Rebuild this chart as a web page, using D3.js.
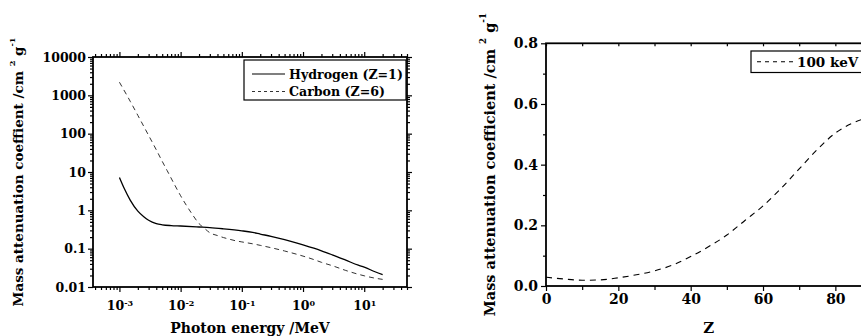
<!DOCTYPE html>
<html>
<head>
<meta charset="utf-8">
<script src="https://cdn.jsdelivr.net/npm/d3@7"></script>
<style>
  body { margin: 0; background: #fff; }
  svg { display: block; font-family: "DejaVu Serif", serif; font-weight: bold; }
  .frame { fill: none; stroke: #000; stroke-width: 1.8; }
  .axis path { display: none; }
  .axis line { stroke: #000; stroke-width: 1.2; }
  .axis text { fill: #000; font-family: "DejaVu Serif", serif; font-weight: bold; }
</style>
</head>
<body>
<svg id="chart" width="861" height="336"></svg>
<script>
// left panel: mass attenuation vs photon energy (MeV)
const hEnergy = [0.001, 0.0012, 0.0015, 0.002, 0.0025, 0.003, 0.004, 0.005, 0.007, 0.01, 0.02, 0.03, 0.05, 0.1, 0.15, 0.2, 0.3, 0.5, 0.8, 1, 1.5, 2, 3, 5, 8, 10, 15, 20];
const hMu     = [7.2, 3.7, 1.85, 0.95, 0.68, 0.55, 0.45, 0.42, 0.40, 0.39, 0.368, 0.355, 0.33, 0.292, 0.265, 0.24, 0.21, 0.172, 0.14, 0.126, 0.103, 0.088, 0.069, 0.05, 0.037, 0.033, 0.025, 0.021];
const cEnergy = [0.001, 0.0015, 0.002, 0.003, 0.004, 0.005, 0.006, 0.008, 0.01, 0.015, 0.02, 0.025, 0.03, 0.04, 0.05, 0.06, 0.08, 0.1, 0.15, 0.2, 0.3, 0.5, 0.8, 1, 1.5, 2, 3, 5, 8, 10, 15, 20];
const cMu     = [2200, 700, 300, 90, 38, 19, 11, 4.6, 2.4, 0.85, 0.45, 0.33, 0.26, 0.22, 0.195, 0.18, 0.16, 0.15, 0.134, 0.122, 0.106, 0.087, 0.071, 0.064, 0.052, 0.044, 0.036, 0.027, 0.0215, 0.0196, 0.017, 0.0158];
const leftSeries = ['Hydrogen (Z=1)', 'Carbon (Z=6)'];
const leftYTicks = [0.01, 0.1, 1, 10, 100, 1000, 10000];
const leftXTicks = [1e-3, 1e-2, 1e-1, 1, 10];

// right panel: mass attenuation vs Z at 100 keV
const zValues = [0, 5, 10, 15, 20, 25, 30, 35, 40, 45, 50, 55, 60, 65, 70, 75, 80, 85, 88];
const mu100   = [0.029, 0.023, 0.019, 0.020, 0.027, 0.037, 0.050, 0.069, 0.097, 0.130, 0.168, 0.216, 0.264, 0.322, 0.386, 0.450, 0.504, 0.538, 0.552];
const rightSeries = ['100 keV'];
const rightXTicks = [0, 20, 40, 60, 80];
const rightYTicks = [0, 0.2, 0.4, 0.6, 0.8];

const svg = d3.select('#chart');

function yTitle(g, x, y, main, size){
  const t = g.append('text')
    .attr('transform', `translate(${x},${y}) rotate(-90)`)
    .attr('text-anchor', 'middle')
    .attr('font-size', size + 'px');
  t.append('tspan').text(main + ' /cm ');
  t.append('tspan').attr('dy', -size * 0.6).attr('font-size', (size * 0.6) + 'px').text('2');
  t.append('tspan').attr('dy', size * 0.6).text(' g');
  t.append('tspan').attr('dy', -size * 0.6).attr('font-size', (size * 0.6) + 'px').text('-1');
}

/* ---------- left panel ---------- */
{
  const L = 93, R = 407, T = 57, B = 287;
  const x = d3.scaleLog().domain([3.7e-4, 50]).range([L, R]);
  const y = d3.scaleLog().domain([0.01, 10000]).range([B, T]);
  const g = svg.append('g');

  const minorX = x.ticks().filter(v => !leftXTicks.includes(v));
  const minorY = y.ticks().filter(v => !leftYTicks.includes(v));

  // minor ticks on all sides
  g.append('g').attr('class', 'axis').attr('transform', `translate(0,${B})`)
    .call(d3.axisBottom(x).tickValues(minorX).tickSize(3).tickFormat(''));
  g.append('g').attr('class', 'axis').attr('transform', `translate(0,${T})`)
    .call(d3.axisTop(x).tickValues(minorX).tickSize(3).tickFormat(''));
  g.append('g').attr('class', 'axis').attr('transform', `translate(${L},0)`)
    .call(d3.axisLeft(y).tickValues(minorY).tickSize(3).tickFormat(''));
  g.append('g').attr('class', 'axis').attr('transform', `translate(${R},0)`)
    .call(d3.axisRight(y).tickValues(minorY).tickSize(3).tickFormat(''));

  // major ticks
  const xb = g.append('g').attr('class', 'axis').attr('transform', `translate(0,${B})`)
    .call(d3.axisBottom(x).tickValues(leftXTicks).tickSize(5).tickPadding(9).tickFormat(''));
  xb.selectAll('.tick text').attr('font-size', '12.5px').each(function(d){
    const t = d3.select(this);
    t.append('tspan').text('10');
    t.append('tspan').attr('dy', '-0.5em').attr('font-size', '8px').text(Math.round(Math.log10(d)));
  });
  g.append('g').attr('class', 'axis').attr('transform', `translate(0,${T})`)
    .call(d3.axisTop(x).tickValues(leftXTicks).tickSize(5).tickFormat(''));
  g.append('g').attr('class', 'axis').attr('transform', `translate(${L},0)`)
    .call(d3.axisLeft(y).tickValues(leftYTicks).tickSize(5).tickPadding(2).tickFormat(d => String(d)))
    .selectAll('text').attr('font-size', '12.5px');
  g.append('g').attr('class', 'axis').attr('transform', `translate(${R},0)`)
    .call(d3.axisRight(y).tickValues(leftYTicks).tickSize(5).tickFormat(''));

  g.append('rect').attr('class', 'frame').attr('x', L).attr('y', T).attr('width', R - L).attr('height', B - T);

  const line = d3.line().x(d => x(d[0])).y(d => y(d[1])).curve(d3.curveMonotoneX);
  g.append('path').datum(d3.zip(hEnergy, hMu)).attr('d', line)
    .attr('fill', 'none').attr('stroke', '#000').attr('stroke-width', 1.3);
  g.append('path').datum(d3.zip(cEnergy, cMu)).attr('d', line)
    .attr('fill', 'none').attr('stroke', '#333').attr('stroke-width', 1).attr('stroke-dasharray', '5,4');

  // legend
  const lg = g.append('g');
  lg.append('rect').attr('x', 244).attr('y', 60).attr('width', 162).attr('height', 40)
    .attr('fill', '#fff').attr('stroke', '#000').attr('stroke-width', 1.2);
  leftSeries.forEach((s, i) => {
    const yy = 74 + i * 17.5;
    lg.append('line').attr('x1', 252).attr('x2', 285).attr('y1', yy).attr('y2', yy)
      .attr('stroke', i ? '#333' : '#000').attr('stroke-width', i ? 1 : 1.2)
      .attr('stroke-dasharray', i ? '3,3' : null);
    lg.append('text').attr('x', 289).attr('y', yy + 4.5).attr('font-size', '12.6px').text(s);
  });

  g.append('text').attr('x', (L + R) / 2).attr('y', 333).attr('text-anchor', 'middle')
    .attr('font-size', '14px').text('Photon energy /MeV');
  yTitle(g, 23, (T + B) / 2, 'Mass attenuation coeffient', 13.5);
}

/* ---------- right panel ---------- */
{
  const L = 546, T = 43.3, B = 286;
  const R = L + 100 * 3.617;
  const x = d3.scaleLinear().domain([0, 100]).range([L, R]);
  const y = d3.scaleLinear().domain([0, 0.8]).range([B, T]);
  const g = svg.append('g');

  const minorX = d3.range(10, 100, 20);
  const minorY = [0.1, 0.3, 0.5, 0.7];

  g.append('g').attr('class', 'axis').attr('transform', `translate(0,${B})`)
    .call(d3.axisBottom(x).tickValues(minorX).tickSize(4).tickFormat(''));
  g.append('g').attr('class', 'axis').attr('transform', `translate(0,${T})`)
    .call(d3.axisBottom(x).tickValues(minorX.concat(rightXTicks)).tickSize(3).tickFormat(''));
  g.append('g').attr('class', 'axis').attr('transform', `translate(${L},0)`)
    .call(d3.axisLeft(y).tickValues(minorY).tickSize(3).tickFormat(''));

  g.append('g').attr('class', 'axis').attr('transform', `translate(0,${B})`)
    .call(d3.axisBottom(x).tickValues(rightXTicks).tickSize(5).tickPadding(3).tickFormat(d3.format('d')))
    .selectAll('text').attr('font-size', '14px');
  g.append('g').attr('class', 'axis').attr('transform', `translate(${L},0)`)
    .call(d3.axisLeft(y).tickValues(rightYTicks).tickSize(5).tickPadding(3).tickFormat(d3.format('.1f')))
    .selectAll('text').attr('font-size', '14px');

  g.append('rect').attr('class', 'frame').attr('x', L).attr('y', T).attr('width', R - L).attr('height', B - T);

  const line = d3.line().x((d, i) => x(zValues[i])).y(d => y(d)).curve(d3.curveMonotoneX);
  g.append('path').datum(mu100).attr('d', line)
    .attr('fill', 'none').attr('stroke', '#000').attr('stroke-width', 1.1).attr('stroke-dasharray', '6,5');

  const lg = g.append('g');
  lg.append('rect').attr('x', 751).attr('y', 51).attr('width', 150).attr('height', 21.5)
    .attr('fill', '#fff').attr('stroke', '#000').attr('stroke-width', 1.2);
  rightSeries.forEach((s, i) => {
    const yy = 61.8 + i * 18;
    lg.append('line').attr('x1', 757).attr('x2', 795).attr('y1', yy).attr('y2', yy)
      .attr('stroke', '#000').attr('stroke-width', 1.1).attr('stroke-dasharray', '4,4');
    lg.append('text').attr('x', 797).attr('y', yy + 5).attr('font-size', '13.5px').text(s);
  });

  g.append('text').attr('x', x(45)).attr('y', 333).attr('text-anchor', 'middle')
    .attr('font-size', '15px').text('Z');
  yTitle(g, 495, (T + B) / 2, 'Mass attenuation coefficient', 14.5);
}
</script>
</body>
</html>
